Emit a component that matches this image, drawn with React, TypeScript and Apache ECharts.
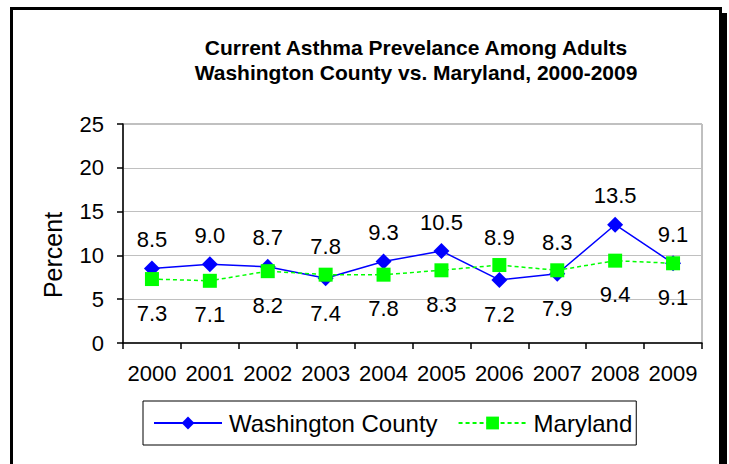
import React, { useEffect, useRef } from "react";
import * as echarts from "echarts";

const years = ["2000", "2001", "2002", "2003", "2004", "2005", "2006", "2007", "2008", "2009"];
const washington = [8.5, 9.0, 8.7, 7.4, 9.3, 10.5, 7.2, 7.9, 13.5, 9.1];
const maryland = [7.3, 7.1, 8.2, 7.8, 7.8, 8.3, 8.9, 8.3, 9.4, 9.1];
const yMin = 0;
const yMax = 25;
const yInterval = 5;

const FONT = "'Liberation Sans', Arial, sans-serif";

function withLabels(values: number[], others: number[], preferTop: boolean) {
  return values.map((v, i) => {
    const o = others[i];
    const top = v > o || (v === o && preferTop);
    return {
      value: v,
      label: { position: top ? "top" : "bottom", distance: top ? 10 : 16 },
    };
  });
}

export default function App() {
  const ref = useRef<HTMLDivElement>(null);
  useEffect(() => {
    if (!ref.current) return;
    const chart = echarts.init(ref.current, null, { renderer: "svg" });
    const labelCommon = {
      show: true,
      fontFamily: FONT,
      fontSize: 22,
      color: "#000",
      formatter: (p: any) => Number(p.value).toFixed(1),
    };
    chart.setOption({
      animation: false,
      backgroundColor: "#fff",
      title: {
        text: "Current Asthma Prevelance Among Adults\nWashington County vs. Maryland, 2000-2009",
        left: 411,
        top: 30,
        textAlign: "center",
        textStyle: {
          fontFamily: FONT,
          fontWeight: "bold",
          fontSize: 21,
          lineHeight: 25,
          color: "#000",
        },
      },
      grid: {
        left: 123,
        right: 27,
        top: 124,
        bottom: 121,
        show: true,
        borderColor: "#808080",
        borderWidth: 1,
        backgroundColor: "transparent",
      },
      legend: {
        left: 143,
        top: 401,
        padding: [10, 4, 10, 10],
        itemGap: 20,
        itemWidth: 68,
        itemHeight: 16,
        borderColor: "#000",
        borderWidth: 1,
        textStyle: { fontFamily: FONT, fontSize: 24, color: "#000", padding: [0, 0, 0, 2] },
        data: ["Washington County", "Maryland"],
      },
      xAxis: {
        type: "category",
        data: years,
        boundaryGap: true,
        axisLine: { lineStyle: { color: "#000", width: 1.5 } },
        axisTick: { show: true, length: 6, lineStyle: { color: "#000", width: 1.5 } },
        axisLabel: { fontFamily: FONT, fontSize: 22, color: "#000", margin: 19, interval: 0 },
        splitLine: { show: false },
      },
      yAxis: {
        type: "value",
        min: yMin,
        max: yMax,
        interval: yInterval,
        axisLine: { show: true, lineStyle: { color: "#000", width: 1.5 } },
        axisTick: { show: true, length: 6, lineStyle: { color: "#000", width: 1.5 } },
        axisLabel: { fontFamily: FONT, fontSize: 22, color: "#000", margin: 19 },
        splitLine: { show: true, lineStyle: { color: "#c0c0c0", width: 1 } },
      },
      series: [
        {
          name: "Washington County",
          type: "line",
          data: withLabels(washington, maryland, true),
          symbol: "diamond",
          symbolSize: 16,
          itemStyle: { color: "#0000ff" },
          lineStyle: { color: "#0000ff", width: 1.5 },
          label: labelCommon,
          z: 2,
        },
        {
          name: "Maryland",
          type: "line",
          data: withLabels(maryland, washington, false),
          symbol: "rect",
          symbolSize: 14,
          itemStyle: { color: "#00ff00" },
          lineStyle: { color: "#00ff00", width: 1.5, type: [4, 3] },
          label: labelCommon,
          z: 3,
        },
      ],
      graphic: [
        {
          type: "rect",
          shape: { x: 11.5, y: 8.5, width: 709, height: 520 },
          style: { fill: "none", stroke: "#000", lineWidth: 3 },
          silent: true,
        },
        {
          type: "rect",
          shape: { x: 722, y: 13, width: 5, height: 460 },
          style: { fill: "#000" },
          silent: true,
        },
        {
          type: "text",
          x: 53,
          y: 255,
          rotation: Math.PI / 2,
          style: {
            text: "Percent",
            fontFamily: FONT,
            fontSize: 25,
            fill: "#000",
            align: "center",
            verticalAlign: "middle",
          },
          silent: true,
        },
      ],
    });
    return () => chart.dispose();
  }, []);
  return (
    <div
      ref={ref}
      style={{ position: "fixed", left: 0, top: 0, width: 729, height: 464, background: "#fff" }}
    />
  );
}
